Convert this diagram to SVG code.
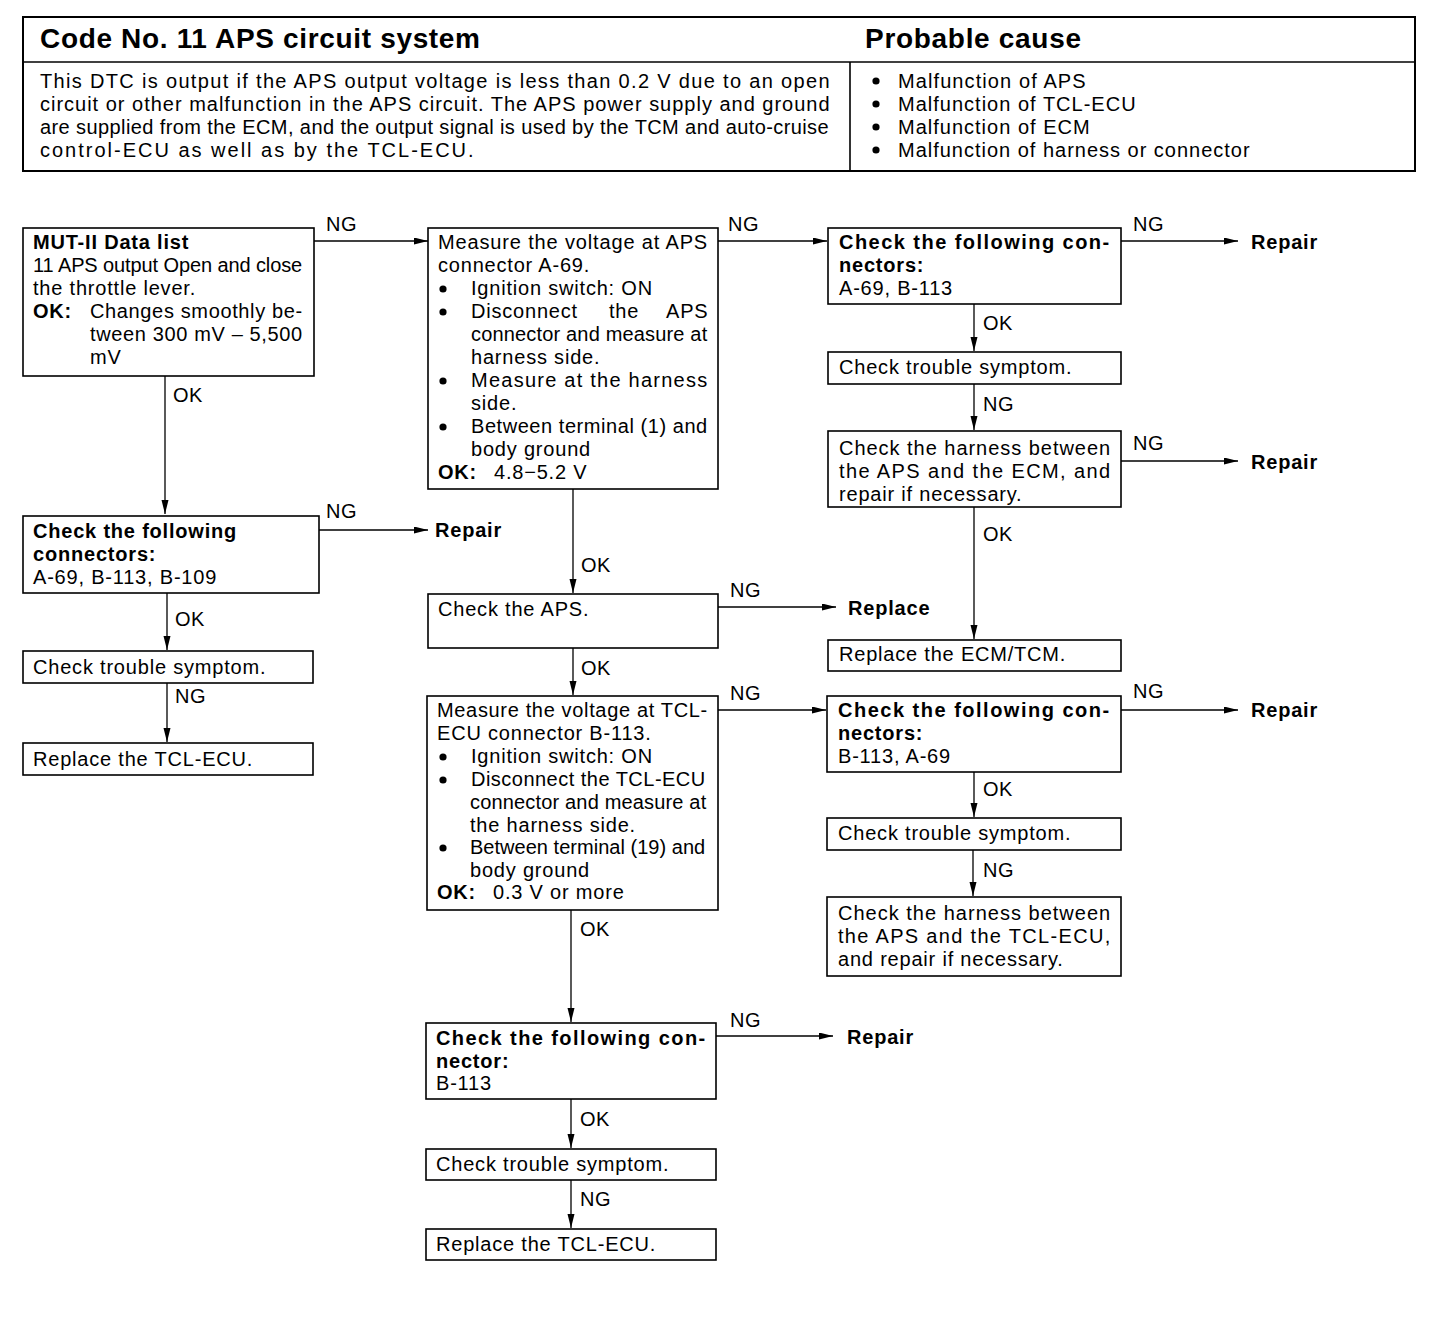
<svg xmlns="http://www.w3.org/2000/svg" width="1440" height="1330" viewBox="0 0 1440 1330">
<defs>
<style>
text{font-family:"Liberation Sans",Arial,sans-serif;fill:#000}
.t{font-size:20px;letter-spacing:0.8px}
.b{font-weight:bold}
.h{font-size:20px;letter-spacing:0.4px}
.ttl{font-size:28px;font-weight:bold}
.lbl{font-size:20px;letter-spacing:0.5px}
.box{fill:#fff;stroke:#000;stroke-width:1.6}
.c{stroke:#000;stroke-width:1.3;fill:none;marker-end:url(#ah)}
.dot{fill:#000}
</style>
<marker id="ah" markerUnits="userSpaceOnUse" markerWidth="15" markerHeight="8" refX="14" refY="3.5" orient="auto">
<path d="M0,0 L14,3.5 L0,7 z" fill="#000"/>
</marker>
</defs>
<rect width="1440" height="1330" fill="#fff"/>

<g id="header">
<rect x="23" y="17" width="1392" height="154" fill="none" stroke="#000" stroke-width="2"/>
<line x1="23" y1="62" x2="1415" y2="62" stroke="#000" stroke-width="1.6"/>
<line x1="850" y1="62" x2="850" y2="171" stroke="#000" stroke-width="1.6"/>
<text class="ttl" x="40" y="48" textLength="440" lengthAdjust="spacing">Code No. 11 APS circuit system</text>
<text class="ttl" x="865" y="48" textLength="216" lengthAdjust="spacing">Probable cause</text>
<text class="h" x="40" y="88" textLength="790" lengthAdjust="spacing">This DTC is output if the APS output voltage is less than 0.2 V due to an open</text>
<text class="h" x="40" y="111" textLength="790" lengthAdjust="spacing">circuit or other malfunction in the APS circuit. The APS power supply and ground</text>
<text class="h" x="40" y="134" textLength="789" lengthAdjust="spacing">are supplied from the ECM, and the output signal is used by the TCM and auto-cruise</text>
<text class="h" x="40" y="157" textLength="434" lengthAdjust="spacing">control-ECU as well as by the TCL-ECU.</text>
<circle class="dot" cx="876" cy="81" r="3.6"/><text class="h" x="898" y="88" textLength="188" lengthAdjust="spacing">Malfunction of APS</text>
<circle class="dot" cx="876" cy="104" r="3.6"/><text class="h" x="898" y="111" textLength="238" lengthAdjust="spacing">Malfunction of TCL-ECU</text>
<circle class="dot" cx="876" cy="127" r="3.6"/><text class="h" x="898" y="134" textLength="192" lengthAdjust="spacing">Malfunction of ECM</text>
<circle class="dot" cx="876" cy="150" r="3.6"/><text class="h" x="898" y="157" textLength="352" lengthAdjust="spacing">Malfunction of harness or connector</text>
</g>

<g id="connectors">
<line class="c" x1="314" y1="241" x2="428" y2="241"/>
<line class="c" x1="165" y1="376" x2="165" y2="514"/>
<line class="c" x1="319" y1="530" x2="428" y2="530"/>
<line class="c" x1="167" y1="593" x2="167" y2="650"/>
<line class="c" x1="167" y1="683" x2="167" y2="742"/>
<line class="c" x1="718" y1="241" x2="827" y2="241"/>
<line class="c" x1="573" y1="489" x2="573" y2="593"/>
<line class="c" x1="718" y1="607" x2="836" y2="607"/>
<line class="c" x1="573" y1="648" x2="573" y2="695"/>
<line class="c" x1="718" y1="710" x2="826" y2="710"/>
<line class="c" x1="571" y1="910" x2="571" y2="1022"/>
<line class="c" x1="716" y1="1036" x2="833" y2="1036"/>
<line class="c" x1="571" y1="1099" x2="571" y2="1148"/>
<line class="c" x1="571" y1="1180" x2="571" y2="1228"/>
<line class="c" x1="1121" y1="241" x2="1238" y2="241"/>
<line class="c" x1="974" y1="304" x2="974" y2="351"/>
<line class="c" x1="974" y1="384" x2="974" y2="430"/>
<line class="c" x1="1121" y1="461" x2="1238" y2="461"/>
<line class="c" x1="974" y1="507" x2="974" y2="639"/>
<line class="c" x1="1121" y1="710" x2="1238" y2="710"/>
<line class="c" x1="974" y1="772" x2="974" y2="817"/>
<line class="c" x1="973" y1="850" x2="973" y2="896"/>
<text class="lbl" x="326" y="231">NG</text>
<text class="lbl" x="173" y="402">OK</text>
<text class="lbl" x="326" y="518">NG</text>
<text class="t b" x="435" y="537">Repair</text>
<text class="lbl" x="175" y="626">OK</text>
<text class="lbl" x="175" y="703">NG</text>
<text class="lbl" x="728" y="231">NG</text>
<text class="lbl" x="581" y="572">OK</text>
<text class="lbl" x="730" y="597">NG</text>
<text class="t b" x="848" y="615">Replace</text>
<text class="lbl" x="581" y="675">OK</text>
<text class="lbl" x="730" y="700">NG</text>
<text class="lbl" x="580" y="936">OK</text>
<text class="lbl" x="730" y="1027">NG</text>
<text class="t b" x="847" y="1044">Repair</text>
<text class="lbl" x="580" y="1126">OK</text>
<text class="lbl" x="580" y="1206">NG</text>
<text class="lbl" x="1133" y="231">NG</text>
<text class="t b" x="1251" y="249">Repair</text>
<text class="lbl" x="983" y="330">OK</text>
<text class="lbl" x="983" y="411">NG</text>
<text class="lbl" x="1133" y="450">NG</text>
<text class="t b" x="1251" y="469">Repair</text>
<text class="lbl" x="983" y="541">OK</text>
<text class="lbl" x="1133" y="698">NG</text>
<text class="t b" x="1251" y="717">Repair</text>
<text class="lbl" x="983" y="796">OK</text>
<text class="lbl" x="983" y="877">NG</text>
</g>

<g id="n1">
<rect class="box" x="23" y="228" width="291" height="148"/>
<text class="t b" x="33" y="249">MUT-II Data list</text>
<text class="t" x="33" y="272" textLength="270" lengthAdjust="spacing">11 APS output Open and close</text>
<text class="t" x="33" y="295">the throttle lever.</text>
<text class="t b" x="33" y="318">OK:</text>
<text class="t" x="90" y="318" textLength="213" lengthAdjust="spacing">Changes smoothly be-</text>
<text class="t" x="90" y="341" textLength="213" lengthAdjust="spacing">tween 300 mV – 5,500</text>
<text class="t" x="90" y="364">mV</text>
</g>

<g id="n3">
<rect class="box" x="23" y="516" width="296" height="77"/>
<text class="t b" x="33" y="538">Check the following</text>
<text class="t b" x="33" y="561">connectors:</text>
<text class="t" x="33" y="584">A-69, B-113, B-109</text>
</g>

<g id="n4">
<rect class="box" x="23" y="651" width="290" height="32"/>
<text class="t" x="33" y="674">Check trouble symptom.</text>
</g>

<g id="n5">
<rect class="box" x="23" y="743" width="290" height="32"/>
<text class="t" x="33" y="766">Replace the TCL-ECU.</text>
</g>

<g id="m1">
<rect class="box" x="428" y="228" width="290" height="261"/>
<text class="t" x="438" y="249" textLength="270" lengthAdjust="spacing">Measure the voltage at APS</text>
<text class="t" x="438" y="272">connector A-69.</text>
<circle class="dot" cx="443" cy="289" r="3.6"/><text class="t" x="471" y="295">Ignition switch: ON</text>
<circle class="dot" cx="443" cy="312" r="3.6"/><text class="t" y="318"><tspan x="471">Disconnect</tspan><tspan x="609">the</tspan><tspan x="666">APS</tspan></text>
<text class="t" x="471" y="341" textLength="237" lengthAdjust="spacing">connector and measure at</text>
<text class="t" x="471" y="364">harness side.</text>
<circle class="dot" cx="443" cy="381" r="3.6"/><text class="t" x="471" y="387" textLength="237" lengthAdjust="spacing">Measure at the harness</text>
<text class="t" x="471" y="410">side.</text>
<circle class="dot" cx="443" cy="427" r="3.6"/><text class="t" x="471" y="433" textLength="237" lengthAdjust="spacing">Between terminal (1) and</text>
<text class="t" x="471" y="456">body ground</text>
<text class="t b" x="438" y="479">OK:</text><text class="t" x="494" y="479">4.8−5.2 V</text>
</g>

<g id="m2">
<rect class="box" x="428" y="594" width="290" height="54"/>
<text class="t" x="438" y="616">Check the APS.</text>
</g>

<g id="m3">
<rect class="box" x="427" y="696" width="291" height="214"/>
<text class="t" x="437" y="717" textLength="271" lengthAdjust="spacing">Measure the voltage at TCL-</text>
<text class="t" x="437" y="740">ECU connector B-113.</text>
<circle class="dot" cx="443" cy="757" r="3.6"/><text class="t" x="471" y="763">Ignition switch: ON</text>
<circle class="dot" cx="443" cy="780" r="3.6"/><text class="t" x="471" y="786" textLength="235" lengthAdjust="spacing">Disconnect the TCL-ECU</text>
<text class="t" x="470" y="809" textLength="237" lengthAdjust="spacing">connector and measure at</text>
<text class="t" x="470" y="832">the harness side.</text>
<circle class="dot" cx="443" cy="848" r="3.6"/><text class="t" x="470" y="854" textLength="236" lengthAdjust="spacing">Between terminal (19) and</text>
<text class="t" x="470" y="877">body ground</text>
<text class="t b" x="437" y="899">OK:</text><text class="t" x="493" y="899">0.3 V or more</text>
</g>

<g id="m4">
<rect class="box" x="426" y="1023" width="290" height="76"/>
<text class="t b" x="436" y="1045" textLength="270" lengthAdjust="spacing">Check the following con-</text>
<text class="t b" x="436" y="1068">nector:</text>
<text class="t" x="436" y="1090">B-113</text>
</g>

<g id="m5">
<rect class="box" x="426" y="1149" width="290" height="31"/>
<text class="t" x="436" y="1171">Check trouble symptom.</text>
</g>

<g id="m6">
<rect class="box" x="426" y="1229" width="290" height="31"/>
<text class="t" x="436" y="1251">Replace the TCL-ECU.</text>
</g>

<g id="r1">
<rect class="box" x="828" y="228" width="293" height="76"/>
<text class="t b" x="839" y="249" textLength="271" lengthAdjust="spacing">Check the following con-</text>
<text class="t b" x="839" y="272">nectors:</text>
<text class="t" x="839" y="295">A-69, B-113</text>
</g>

<g id="r2">
<rect class="box" x="828" y="352" width="293" height="32"/>
<text class="t" x="839" y="374">Check trouble symptom.</text>
</g>

<g id="r3">
<rect class="box" x="828" y="431" width="293" height="76"/>
<text class="t" x="839" y="455" textLength="272" lengthAdjust="spacing">Check the harness between</text>
<text class="t" x="839" y="478" textLength="272" lengthAdjust="spacing">the APS and the ECM, and</text>
<text class="t" x="839" y="501">repair if necessary.</text>
</g>

<g id="r4">
<rect class="box" x="828" y="640" width="293" height="31"/>
<text class="t" x="839" y="661">Replace the ECM/TCM.</text>
</g>

<g id="r5">
<rect class="box" x="827" y="696" width="294" height="76"/>
<text class="t b" x="838" y="717" textLength="272" lengthAdjust="spacing">Check the following con-</text>
<text class="t b" x="838" y="740">nectors:</text>
<text class="t" x="838" y="763">B-113, A-69</text>
</g>

<g id="r6">
<rect class="box" x="827" y="818" width="294" height="32"/>
<text class="t" x="838" y="840">Check trouble symptom.</text>
</g>

<g id="r7">
<rect class="box" x="827" y="897" width="294" height="79"/>
<text class="t" x="838" y="920" textLength="273" lengthAdjust="spacing">Check the harness between</text>
<text class="t" x="838" y="943" textLength="273" lengthAdjust="spacing">the APS and the TCL-ECU,</text>
<text class="t" x="838" y="966">and repair if necessary.</text>
</g>
</svg>
